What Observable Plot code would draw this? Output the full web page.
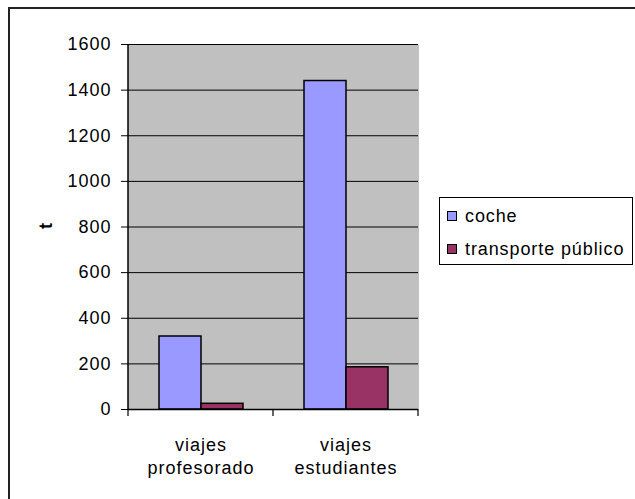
<!DOCTYPE html>
<html>
<head>
<meta charset="utf-8">
<script src="https://cdn.jsdelivr.net/npm/d3@7"></script>
<script src="https://cdn.jsdelivr.net/npm/@observablehq/plot@0.6"></script>
<style>
  html, body { margin: 0; padding: 0; background: white; overflow: hidden; }
  #wrap { position: relative; width: 635px; height: 499px; overflow: hidden; font-family: "Liberation Sans", Arial, sans-serif; }
  #border { position: absolute; left: 8px; top: 7px; width: 800px; height: 800px; border-left: 2px solid #222; border-top: 2px solid #222; }
  #chart { position: absolute; left: 0; top: 0; }
  #ylabel { position: absolute; left: 36px; top: 216px; width: 20px; height: 20px; font-weight: bold; font-size: 18px; line-height: 20px; text-align: center; transform: rotate(-90deg); }
  #legend { position: absolute; left: 439px; top: 197px; width: 192px; height: 66px; border: 1px solid #000; background: white; }
  .row { position: absolute; left: 7px; height: 20px; display: flex; align-items: center; font-size: 18px; letter-spacing: 0.9px; white-space: nowrap; }
  .sw { width: 8px; height: 8px; border: 1px solid #000; margin-right: 8px; }
</style>
</head>
<body>
<div id="wrap">
  <div id="border"></div>
  <div id="chart"></div>
  <div id="ylabel">t</div>
  <div id="legend"></div>
</div>
<script>
const categories = ["viajes profesorado", "viajes estudiantes"];
const categoryLabels = ["viajes\nprofesorado", "viajes\nestudiantes"];
const series = ["coche", "transporte público"];
const coche = [320, 1440];
const transporte = [25, 185];
const yTicks = [0, 200, 400, 600, 800, 1000, 1200, 1400, 1600];
const colors = ["#9999FF", "#993366"];

const data = [];
categories.forEach((c, i) => {
  data.push({cat: c, serie: series[0], value: coche[i]});
  data.push({cat: c, serie: series[1], value: transporte[i]});
});

const chart = Plot.plot({
  width: 635,
  height: 499,
  marginLeft: 128,
  marginRight: 217,
  marginTop: 44,
  marginBottom: 90,
  style: {background: "transparent", fontFamily: "'Liberation Sans', Arial, sans-serif", fontSize: "18px", color: "black", letterSpacing: "1px"},
  fx: {domain: categories, padding: 0, axis: null},
  x: {domain: series, paddingInner: 0, paddingOuter: 0.726, axis: null},
  y: {domain: [0, 1600], axis: null},
  color: {domain: series, range: colors},
  marks: [
    Plot.frame({fill: "#C0C0C0", stroke: null, insetLeft: -0.5, insetRight: -0.5, shapeRendering: "crispEdges"}),
    Plot.ruleY(yTicks, {stroke: "#000", strokeWidth: 1}),
    Plot.barY(data, {fx: "cat", x: "serie", y: "value", fill: "serie", stroke: "#000", strokeWidth: 1.5}),
    Plot.axisY({ticks: yTicks, tickFormat: d3.format("d"), tickSize: 7, tickPadding: 10, label: null, stroke: "#000", fontSize: 18}),
    Plot.ruleY([0], {stroke: "#000", strokeWidth: 1.5}),
    Plot.text(categories, {fx: d => d, text: (d, i) => categoryLabels[i], frameAnchor: "bottom", lineAnchor: "top", dy: 26, lineHeight: 1.25, fontSize: 18, fill: "#000"})
  ]
});
document.getElementById("chart").appendChild(chart);

// left axis line and category boundary tick marks (positions from Plot's scales)
const fx = chart.scale("fx");
const ys = chart.scale("y");
const y0 = ys.apply(0);
const yTop = ys.apply(1600);
const xLeft = fx.apply(categories[0]);
const bounds = categories.map(c => fx.apply(c)).concat([fx.apply(categories[categories.length - 1]) + fx.bandwidth]);
const g = d3.select(chart).append("g").attr("stroke", "#000");
g.append("line").attr("x1", xLeft).attr("x2", xLeft).attr("y1", yTop).attr("y2", y0).attr("stroke-width", 1.5);
g.selectAll("line.tk").data(bounds).join("line").attr("class", "tk")
  .attr("x1", d => d).attr("x2", d => d)
  .attr("y1", y0).attr("y2", y0 + 7)
  .attr("stroke-width", 1.2);

// legend
const leg = document.getElementById("legend");
series.forEach((s, i) => {
  const row = document.createElement("div");
  row.className = "row";
  row.style.top = (8 + i * 33) + "px";
  const sw = document.createElement("div");
  sw.className = "sw";
  sw.style.background = colors[i];
  row.appendChild(sw);
  const t = document.createElement("span");
  t.textContent = s;
  row.appendChild(t);
  leg.appendChild(row);
});
</script>
</body>
</html>
